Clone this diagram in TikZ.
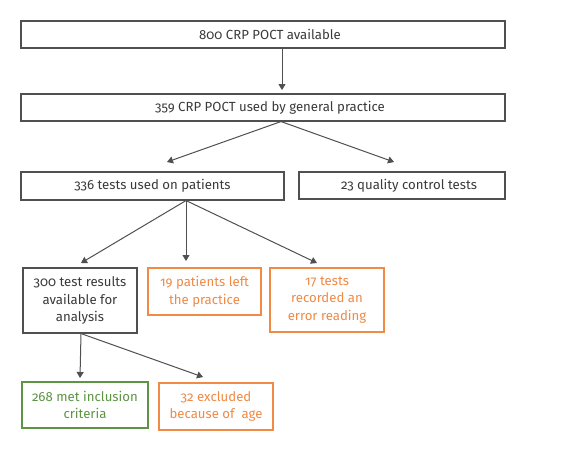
\documentclass[tikz,border=0pt]{standalone}
\usepackage{fontspec}
\setmainfont{Fira Sans}[Numbers=OldStyle]
\usetikzlibrary{arrows.meta}
\definecolor{gr}{HTML}{505050}
\definecolor{txt}{HTML}{3A3A3A}
\definecolor{org}{HTML}{F08A45}
\definecolor{grn}{HTML}{5E9444}
\tikzset{
  box/.style={draw=gr, line width=1.1pt, inner sep=0pt, align=center, text=txt,
    font=\fontsize{13.2}{17.5}\selectfont},
  obox/.style={box, draw=org, text=org, line width=1.4pt},
  gbox/.style={box, draw=grn, text=grn, line width=1.4pt},
  arr/.style={draw=gr, line width=1pt, -{Triangle[length=6pt,width=7pt]}}
}
\begin{document}
\begin{tikzpicture}[x=1pt,y=-1pt]
\useasboundingbox[fill=white] (0,0) rectangle (585,448);
\node[box, minimum width=484pt, minimum height=27pt] (b1) at (263,34.5) {\hspace*{14pt}800 CRP POCT available};
\node[box, minimum width=484pt, minimum height=27pt] (b2) at (263,107.5) {\hspace*{14pt}359 CRP POCT used by general practice};
\node[box, minimum width=263pt, minimum height=28pt] (b3) at (152.5,186) {336 tests used on patients};
\node[box, minimum width=206pt, minimum height=27pt] (b4) at (402,185.5) {\hspace*{14pt}23 quality control tests};
\node[box, minimum width=114pt, minimum height=65pt] (b5) at (80,300.5) {300 test results\\available for\\analysis};
\node[obox, minimum width=113pt, minimum height=47pt] (b6) at (204.5,291.5) {19 patients left\\the practice};
\node[obox, minimum width=114pt, minimum height=64pt] (b7) at (327,300) {17 tests\\recorded an\\error reading};
\node[gbox, minimum width=126pt, minimum height=46pt] (b8) at (85,405) {268 met inclusion\\criteria};
\node[obox, minimum width=114pt, minimum height=47pt] (b9) at (216,406.5) {32 excluded\\because of\ \ age};
\coordinate (t2) at (282,90);
\coordinate (t3) at (167,162);
\coordinate (t4) at (394,162);
\coordinate (t5) at (81,263);
\coordinate (t6) at (186,261);
\coordinate (t7) at (317,263);
\coordinate (t8) at (80,378);
\coordinate (t9) at (203,377);
\draw[arr] ([xshift=19pt]b1.south) -- (t2);
\draw[arr] ([xshift=18pt]b2.south) -- (t3);
\draw[arr] ([xshift=18pt]b2.south) -- (t4);
\draw[arr] ([xshift=33.5pt]b3.south) -- (t5);
\draw[arr] ([xshift=33.5pt]b3.south) -- (t6);
\draw[arr] ([xshift=33.5pt]b3.south) -- (t7);
\draw[arr] ([xshift=1pt]b5.south) -- (t8);
\draw[arr] ([xshift=1pt]b5.south) -- (t9);
\end{tikzpicture}
\end{document}
